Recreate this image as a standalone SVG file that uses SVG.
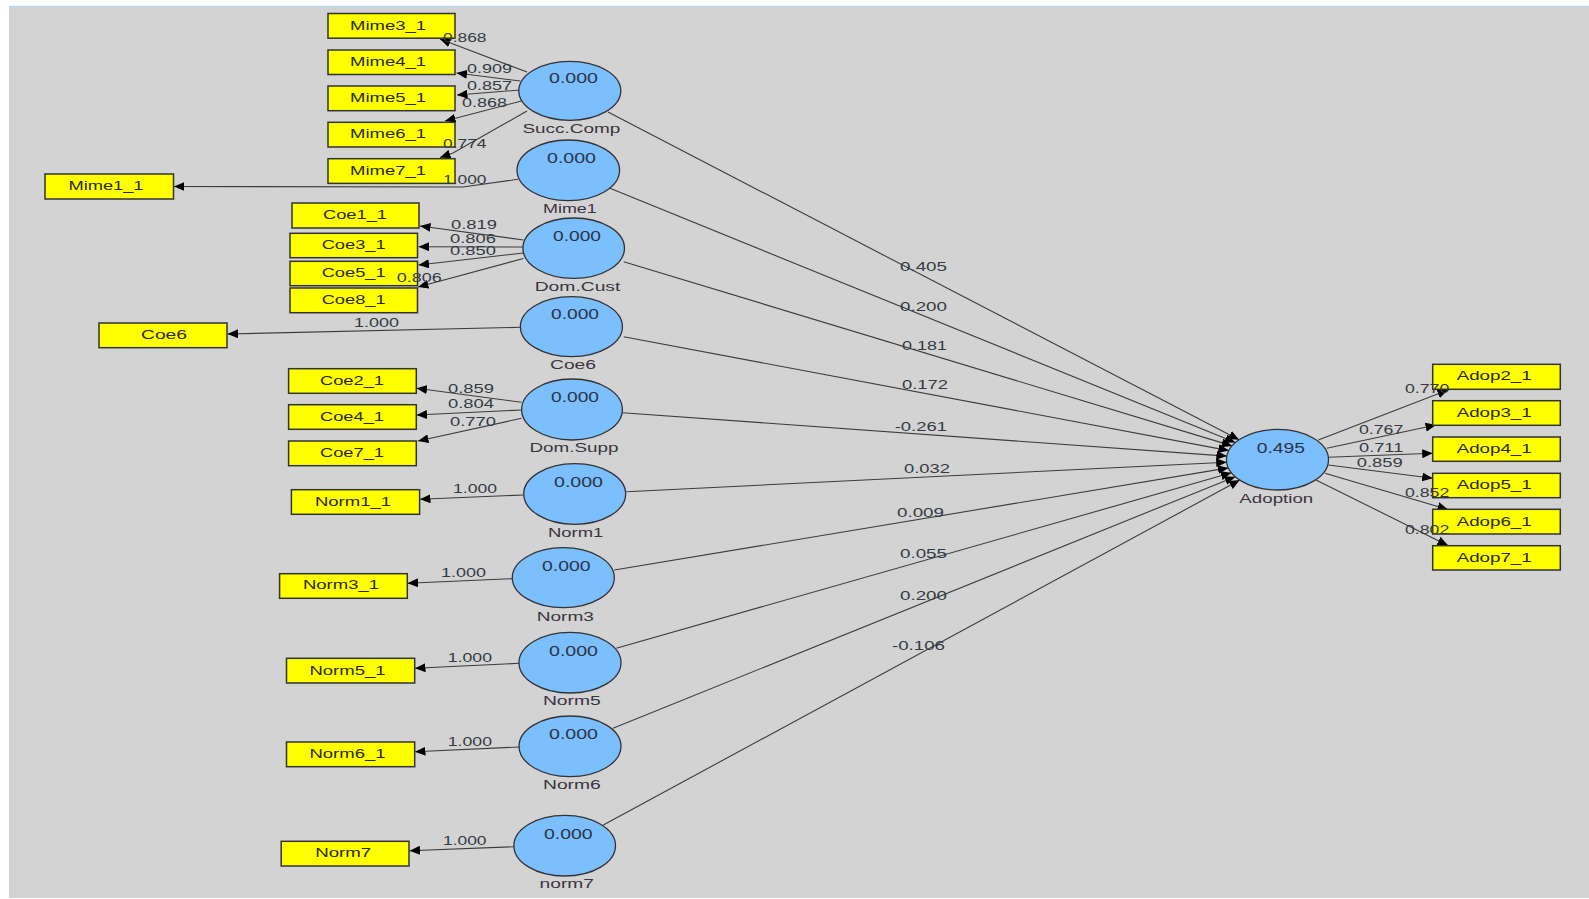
<svg xmlns="http://www.w3.org/2000/svg" width="1589" height="899" viewBox="0 0 1589 899">
  <defs>
    <marker id="arr" markerUnits="userSpaceOnUse" markerWidth="11" markerHeight="9" refX="10.5" refY="4.5" orient="auto">
      <path d="M0,0 L10.5,4.5 L0,9 z" fill="#000"/>
    </marker>
    <style>
      .box { fill: #ffff00; stroke: #333; stroke-width: 1.5; }
      .lv { fill: #7cbfff; stroke: #333; stroke-width: 1.3; }
      .edge { stroke: #3c3c3c; stroke-width: 1.1; fill: none; marker-end: url(#arr); }
      text { font-family: "Liberation Sans", Arial, sans-serif; fill: #333; }
      .bl { font-size: 13px; fill: #2a2a10; }
      .val { font-size: 15px; fill: #2b3445; }
      .nm { font-size: 12.5px; fill: #3a3440; }
      .cf { font-size: 13px; fill: #333a44; }
    </style>
  </defs>

  <!-- canvas -->
  <rect x="0" y="0" width="1589" height="899" fill="#ffffff"/>
  <rect x="9" y="7" width="1580" height="891" fill="#d3d3d3"/>
  <line x1="9" y1="6.5" x2="1589" y2="6.5" stroke="#bcd3ee" stroke-width="1.5"/>

  <!-- connectors -->
  <g id="connectors">
    <!-- Succ.Comp indicators -->
    <line class="edge" x1="527" y1="72" x2="440" y2="39"/>
    <line class="edge" x1="520.5" y1="81" x2="456.5" y2="73"/>
    <line class="edge" x1="520" y1="90" x2="457" y2="95"/>
    <line class="edge" x1="521.5" y1="101" x2="445" y2="121"/>
    <polyline class="edge" points="527,111 453,153 440,157.5"/>
    <!-- Mime1 -->
    <polyline class="edge" points="518,179.3 463,187 174,186.5"/>
    <!-- Dom.Cust indicators -->
    <line class="edge" x1="523.5" y1="240" x2="420" y2="226"/>
    <line class="edge" x1="523.5" y1="247" x2="418.5" y2="246.7"/>
    <line class="edge" x1="523.5" y1="253" x2="418.5" y2="265"/>
    <line class="edge" x1="523.5" y1="258.5" x2="418" y2="287"/>
    <!-- Coe6 -->
    <line class="edge" x1="520.5" y1="327.3" x2="227.5" y2="334"/>
    <!-- Dom.Supp indicators -->
    <line class="edge" x1="521.5" y1="402.3" x2="416.5" y2="388.3"/>
    <line class="edge" x1="521.5" y1="410" x2="416.5" y2="415"/>
    <line class="edge" x1="521.5" y1="418.3" x2="418" y2="441"/>
    <!-- single indicators -->
    <line class="edge" x1="523.5" y1="495" x2="420" y2="499.3"/>
    <line class="edge" x1="512.2" y1="578.7" x2="407.5" y2="583.3"/>
    <line class="edge" x1="519.2" y1="663.3" x2="415" y2="668.3"/>
    <line class="edge" x1="519.2" y1="747" x2="415" y2="751.7"/>
    <line class="edge" x1="513.9" y1="846.7" x2="409.5" y2="850.7"/>
    <!-- structural paths into Adoption -->
    <line class="edge" x1="608" y1="112" x2="1239.1" y2="439.8"/>
    <line class="edge" x1="610" y1="188.3" x2="1235.4" y2="442.6"/>
    <line class="edge" x1="623.7" y1="261.7" x2="1232.1" y2="445.9"/>
    <line class="edge" x1="623.7" y1="336.7" x2="1228.9" y2="450.6"/>
    <line class="edge" x1="622.4" y1="412.7" x2="1226.9" y2="456.1"/>
    <line class="edge" x1="626.5" y1="491.7" x2="1226.7" y2="462.2"/>
    <line class="edge" x1="614.3" y1="570" x2="1228.4" y2="467.9"/>
    <line class="edge" x1="616.3" y1="648.3" x2="1231.5" y2="472.8"/>
    <line class="edge" x1="613" y1="728.3" x2="1235.3" y2="476.7"/>
    <line class="edge" x1="603.3" y1="825" x2="1239.8" y2="480.1"/>
    <!-- Adoption indicators -->
    <line class="edge" x1="1318.3" y1="440" x2="1448" y2="390"/>
    <line class="edge" x1="1326.7" y1="448.3" x2="1436" y2="425"/>
    <line class="edge" x1="1328.3" y1="457.3" x2="1432.7" y2="453.3"/>
    <line class="edge" x1="1328.3" y1="465" x2="1432.7" y2="478.3"/>
    <line class="edge" x1="1325" y1="473.3" x2="1448" y2="509.5"/>
    <line class="edge" x1="1316" y1="480" x2="1448" y2="545.5"/>
  </g>

  <!-- indicator boxes -->
  <g id="mime3_1"><rect class="box" x="328" y="13.5" width="127" height="24.7"/><text class="bl" x="388" y="30" text-anchor="middle" textLength="76" lengthAdjust="spacingAndGlyphs">Mime3_1</text></g>
  <g id="mime4_1"><rect class="box" x="328" y="50" width="127" height="24.5"/><text class="bl" x="388" y="66" text-anchor="middle" textLength="76" lengthAdjust="spacingAndGlyphs">Mime4_1</text></g>
  <g id="mime5_1"><rect class="box" x="328" y="86" width="127" height="24.7"/><text class="bl" x="388" y="102" text-anchor="middle" textLength="76" lengthAdjust="spacingAndGlyphs">Mime5_1</text></g>
  <g id="mime6_1"><rect class="box" x="328" y="122.3" width="127" height="24.7"/><text class="bl" x="388" y="138.3" text-anchor="middle" textLength="76" lengthAdjust="spacingAndGlyphs">Mime6_1</text></g>
  <g id="mime7_1"><rect class="box" x="328" y="158.7" width="127" height="24.7"/><text class="bl" x="388" y="174.7" text-anchor="middle" textLength="76" lengthAdjust="spacingAndGlyphs">Mime7_1</text></g>
  <g id="mime1_1"><rect class="box" x="45" y="174" width="128.5" height="25"/><text class="bl" x="106" y="190" text-anchor="middle" textLength="75" lengthAdjust="spacingAndGlyphs">Mime1_1</text></g>
  <g id="coe1_1"><rect class="box" x="292" y="203" width="127" height="25"/><text class="bl" x="355" y="219.3" text-anchor="middle" textLength="64" lengthAdjust="spacingAndGlyphs">Coe1_1</text></g>
  <g id="coe3_1"><rect class="box" x="290" y="233.3" width="127.5" height="24.4"/><text class="bl" x="353.7" y="249.3" text-anchor="middle" textLength="64" lengthAdjust="spacingAndGlyphs">Coe3_1</text></g>
  <g id="coe5_1"><rect class="box" x="290" y="261.3" width="127.5" height="24.4"/><text class="bl" x="353.7" y="277.3" text-anchor="middle" textLength="64" lengthAdjust="spacingAndGlyphs">Coe5_1</text></g>
  <g id="coe8_1"><rect class="box" x="290" y="288" width="127.5" height="24.7"/><text class="bl" x="353.7" y="304" text-anchor="middle" textLength="64" lengthAdjust="spacingAndGlyphs">Coe8_1</text></g>
  <g id="coe6_box"><rect class="box" x="99" y="323" width="128" height="24.7"/><text class="bl" x="164" y="339" text-anchor="middle" textLength="46" lengthAdjust="spacingAndGlyphs">Coe6</text></g>
  <g id="coe2_1"><rect class="box" x="288.6" y="368.7" width="127.7" height="24.6"/><text class="bl" x="352" y="385" text-anchor="middle" textLength="64" lengthAdjust="spacingAndGlyphs">Coe2_1</text></g>
  <g id="coe4_1"><rect class="box" x="288.6" y="404.7" width="127.7" height="24.6"/><text class="bl" x="352" y="420.7" text-anchor="middle" textLength="64" lengthAdjust="spacingAndGlyphs">Coe4_1</text></g>
  <g id="coe7_1"><rect class="box" x="288.6" y="441" width="127.7" height="24.7"/><text class="bl" x="352" y="457.3" text-anchor="middle" textLength="64" lengthAdjust="spacingAndGlyphs">Coe7_1</text></g>
  <g id="norm1_1"><rect class="box" x="291.4" y="489.7" width="128.2" height="24.6"/><text class="bl" x="353" y="506" text-anchor="middle" textLength="76" lengthAdjust="spacingAndGlyphs">Norm1_1</text></g>
  <g id="norm3_1"><rect class="box" x="279.6" y="573.7" width="127.7" height="24.6"/><text class="bl" x="341" y="589.3" text-anchor="middle" textLength="76" lengthAdjust="spacingAndGlyphs">Norm3_1</text></g>
  <g id="norm5_1"><rect class="box" x="286.5" y="658.3" width="128.2" height="24.7"/><text class="bl" x="347.5" y="675" text-anchor="middle" textLength="76" lengthAdjust="spacingAndGlyphs">Norm5_1</text></g>
  <g id="norm6_1"><rect class="box" x="286.5" y="742" width="128.2" height="24.7"/><text class="bl" x="347.5" y="758.3" text-anchor="middle" textLength="76" lengthAdjust="spacingAndGlyphs">Norm6_1</text></g>
  <g id="norm7_box"><rect class="box" x="281.2" y="841.3" width="127.8" height="24.7"/><text class="bl" x="343.2" y="857.3" text-anchor="middle" textLength="56" lengthAdjust="spacingAndGlyphs">Norm7</text></g>
  <g id="adop2_1"><rect class="box" x="1432.7" y="364.3" width="127.6" height="25"/><text class="bl" x="1494.2" y="380" text-anchor="middle" textLength="75" lengthAdjust="spacingAndGlyphs">Adop2_1</text></g>
  <g id="adop3_1"><rect class="box" x="1432.7" y="400.7" width="127.6" height="24.6"/><text class="bl" x="1494.2" y="416.7" text-anchor="middle" textLength="75" lengthAdjust="spacingAndGlyphs">Adop3_1</text></g>
  <g id="adop4_1"><rect class="box" x="1432.7" y="437" width="127.6" height="24.3"/><text class="bl" x="1494.2" y="452.7" text-anchor="middle" textLength="75" lengthAdjust="spacingAndGlyphs">Adop4_1</text></g>
  <g id="adop5_1"><rect class="box" x="1432.7" y="473.3" width="127.6" height="24.4"/><text class="bl" x="1494.2" y="489.3" text-anchor="middle" textLength="75" lengthAdjust="spacingAndGlyphs">Adop5_1</text></g>
  <g id="adop6_1"><rect class="box" x="1432.7" y="509.3" width="127.6" height="24.7"/><text class="bl" x="1494.2" y="525.7" text-anchor="middle" textLength="75" lengthAdjust="spacingAndGlyphs">Adop6_1</text></g>
  <g id="adop7_1"><rect class="box" x="1432.7" y="545.7" width="127.6" height="24.3"/><text class="bl" x="1494.2" y="561.7" text-anchor="middle" textLength="75" lengthAdjust="spacingAndGlyphs">Adop7_1</text></g>

  <!-- latent variables -->
  <g id="succ_comp"><ellipse class="lv" cx="569.8" cy="90.8" rx="51" ry="29.5"/><text class="val" x="549" y="82.7" textLength="49" lengthAdjust="spacingAndGlyphs">0.000</text><text class="nm" x="522.4" y="132.5" textLength="98" lengthAdjust="spacingAndGlyphs">Succ.Comp</text></g>
  <g id="mime1"><ellipse class="lv" cx="568.3" cy="170.3" rx="51.3" ry="30.3"/><text class="val" x="547" y="163.3" textLength="49" lengthAdjust="spacingAndGlyphs">0.000</text><text class="nm" x="543" y="213.3" textLength="53.7" lengthAdjust="spacingAndGlyphs">Mime1</text></g>
  <g id="dom_cust"><ellipse class="lv" cx="573.7" cy="248.2" rx="50.8" ry="30.2"/><text class="val" x="553" y="240.7" textLength="48" lengthAdjust="spacingAndGlyphs">0.000</text><text class="nm" x="534.7" y="290.5" textLength="85.7" lengthAdjust="spacingAndGlyphs">Dom.Cust</text></g>
  <g id="coe6"><ellipse class="lv" cx="571.4" cy="326.7" rx="51" ry="30"/><text class="val" x="551" y="319.3" textLength="48" lengthAdjust="spacingAndGlyphs">0.000</text><text class="nm" x="550" y="369" textLength="46" lengthAdjust="spacingAndGlyphs">Coe6</text></g>
  <g id="dom_supp"><ellipse class="lv" cx="572" cy="409.5" rx="50.4" ry="30.5"/><text class="val" x="551" y="402.3" textLength="48" lengthAdjust="spacingAndGlyphs">0.000</text><text class="nm" x="529.4" y="452.3" textLength="89" lengthAdjust="spacingAndGlyphs">Dom.Supp</text></g>
  <g id="norm1"><ellipse class="lv" cx="574.7" cy="494" rx="51" ry="30.3"/><text class="val" x="554" y="487" textLength="49" lengthAdjust="spacingAndGlyphs">0.000</text><text class="nm" x="548" y="536.7" textLength="55.3" lengthAdjust="spacingAndGlyphs">Norm1</text></g>
  <g id="norm3"><ellipse class="lv" cx="563.3" cy="577.7" rx="51" ry="30"/><text class="val" x="542" y="571" textLength="48.6" lengthAdjust="spacingAndGlyphs">0.000</text><text class="nm" x="536.7" y="620.7" textLength="57.2" lengthAdjust="spacingAndGlyphs">Norm3</text></g>
  <g id="norm5"><ellipse class="lv" cx="570" cy="662.7" rx="51" ry="30.3"/><text class="val" x="549" y="655.7" textLength="49" lengthAdjust="spacingAndGlyphs">0.000</text><text class="nm" x="542.9" y="705.3" textLength="57.9" lengthAdjust="spacingAndGlyphs">Norm5</text></g>
  <g id="norm6"><ellipse class="lv" cx="570" cy="746.3" rx="51" ry="30.3"/><text class="val" x="549" y="739.3" textLength="49" lengthAdjust="spacingAndGlyphs">0.000</text><text class="nm" x="543" y="789" textLength="57.8" lengthAdjust="spacingAndGlyphs">Norm6</text></g>
  <g id="norm7"><ellipse class="lv" cx="564.7" cy="845.7" rx="50.8" ry="30.3"/><text class="val" x="544" y="838.7" textLength="48.7" lengthAdjust="spacingAndGlyphs">0.000</text><text class="nm" x="539.6" y="888.3" textLength="54.3" lengthAdjust="spacingAndGlyphs">norm7</text></g>
  <g id="adoption"><ellipse class="lv" cx="1277.5" cy="459.7" rx="51" ry="30.3"/><text class="val" x="1256.7" y="452.7" textLength="48.3" lengthAdjust="spacingAndGlyphs">0.495</text><text class="nm" x="1239.3" y="502.7" textLength="74" lengthAdjust="spacingAndGlyphs">Adoption</text></g>

  <!-- connector weights -->
  <g id="connector-labels">
    <text class="cf" x="443" y="41.7" textLength="43.5" lengthAdjust="spacingAndGlyphs">0.868</text>
    <text class="cf" x="467" y="73.3" textLength="45" lengthAdjust="spacingAndGlyphs">0.909</text>
    <text class="cf" x="467" y="90" textLength="45" lengthAdjust="spacingAndGlyphs">0.857</text>
    <text class="cf" x="462" y="106.7" textLength="45" lengthAdjust="spacingAndGlyphs">0.868</text>
    <text class="cf" x="443" y="147.7" textLength="43.5" lengthAdjust="spacingAndGlyphs">0.774</text>
    <text class="cf" x="443" y="184" textLength="43.5" lengthAdjust="spacingAndGlyphs">1.000</text>
    <text class="cf" x="451" y="229.3" textLength="46" lengthAdjust="spacingAndGlyphs">0.819</text>
    <text class="cf" x="450" y="243" textLength="46" lengthAdjust="spacingAndGlyphs">0.806</text>
    <text class="cf" x="450" y="255.3" textLength="46" lengthAdjust="spacingAndGlyphs">0.850</text>
    <text class="cf" x="396.7" y="281.7" textLength="45" lengthAdjust="spacingAndGlyphs">0.806</text>
    <text class="cf" x="354" y="326.7" textLength="45" lengthAdjust="spacingAndGlyphs">1.000</text>
    <text class="cf" x="448" y="392.7" textLength="46" lengthAdjust="spacingAndGlyphs">0.859</text>
    <text class="cf" x="448" y="408.3" textLength="46" lengthAdjust="spacingAndGlyphs">0.804</text>
    <text class="cf" x="450" y="426" textLength="46" lengthAdjust="spacingAndGlyphs">0.770</text>
    <text class="cf" x="453" y="493.3" textLength="44" lengthAdjust="spacingAndGlyphs">1.000</text>
    <text class="cf" x="441" y="576.7" textLength="45" lengthAdjust="spacingAndGlyphs">1.000</text>
    <text class="cf" x="447.8" y="661.7" textLength="44.2" lengthAdjust="spacingAndGlyphs">1.000</text>
    <text class="cf" x="447.8" y="745.7" textLength="44.2" lengthAdjust="spacingAndGlyphs">1.000</text>
    <text class="cf" x="443" y="845" textLength="43.5" lengthAdjust="spacingAndGlyphs">1.000</text>

    <text class="cf" x="900" y="271" textLength="47" lengthAdjust="spacingAndGlyphs">0.405</text>
    <text class="cf" x="900" y="311" textLength="47" lengthAdjust="spacingAndGlyphs">0.200</text>
    <text class="cf" x="902" y="350" textLength="45" lengthAdjust="spacingAndGlyphs">0.181</text>
    <text class="cf" x="902" y="389" textLength="46" lengthAdjust="spacingAndGlyphs">0.172</text>
    <text class="cf" x="894.7" y="430.7" textLength="52.3" lengthAdjust="spacingAndGlyphs">-0.261</text>
    <text class="cf" x="904" y="473" textLength="46" lengthAdjust="spacingAndGlyphs">0.032</text>
    <text class="cf" x="897" y="516.7" textLength="47" lengthAdjust="spacingAndGlyphs">0.009</text>
    <text class="cf" x="900" y="557.7" textLength="47" lengthAdjust="spacingAndGlyphs">0.055</text>
    <text class="cf" x="900" y="600" textLength="47" lengthAdjust="spacingAndGlyphs">0.200</text>
    <text class="cf" x="892" y="650" textLength="53" lengthAdjust="spacingAndGlyphs">-0.106</text>

    <text class="cf" x="1405" y="392.7" textLength="44.3" lengthAdjust="spacingAndGlyphs">0.770</text>
    <text class="cf" x="1359" y="434" textLength="44.3" lengthAdjust="spacingAndGlyphs">0.767</text>
    <text class="cf" x="1359" y="451.7" textLength="44.3" lengthAdjust="spacingAndGlyphs">0.711</text>
    <text class="cf" x="1356.7" y="467.3" textLength="46" lengthAdjust="spacingAndGlyphs">0.859</text>
    <text class="cf" x="1405" y="497.3" textLength="44.3" lengthAdjust="spacingAndGlyphs">0.852</text>
    <text class="cf" x="1405" y="534.3" textLength="44.3" lengthAdjust="spacingAndGlyphs">0.802</text>
  </g>
</svg>
